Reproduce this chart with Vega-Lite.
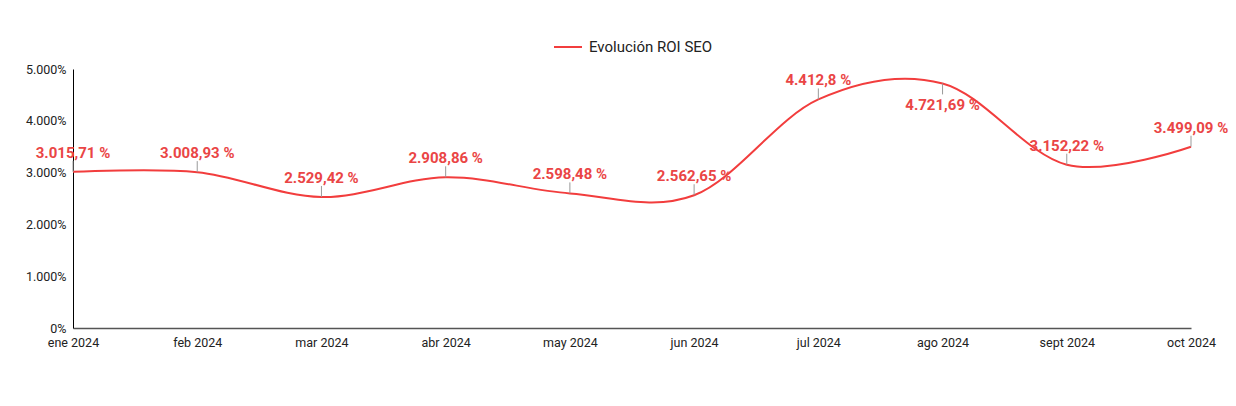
{
  "$schema": "https://vega.github.io/schema/vega-lite/v6.json",
  "width": 1118,
  "height": 259,
  "autosize": {"type": "none"},
  "padding": {"left": 73, "top": 69, "right": 45, "bottom": 78},
  "config": {
    "view": {"stroke": null},
    "font": "Roboto",
    "locale": {"number": {"decimal": ",", "thousands": ".", "grouping": [3], "currency": ["", " €"]}}
  },
  "data": {
    "values": [
      {"mes": "ene 2024", "roi": 3015.71},
      {"mes": "feb 2024", "roi": 3008.93},
      {"mes": "mar 2024", "roi": 2529.42},
      {"mes": "abr 2024", "roi": 2908.86},
      {"mes": "may 2024", "roi": 2598.48},
      {"mes": "jun 2024", "roi": 2562.65},
      {"mes": "jul 2024", "roi": 4412.8},
      {"mes": "ago 2024", "roi": 4721.69},
      {"mes": "sept 2024", "roi": 3152.22},
      {"mes": "oct 2024", "roi": 3499.09}
    ]
  },
  "transform": [{"calculate": "format(datum.roi, ',.6~g') + ' %'", "as": "etiqueta"}],
  "encoding": {
    "x": {
      "field": "mes", "type": "ordinal", "sort": null,
      "scale": {"type": "point", "padding": 0},
      "axis": {"title": null, "labelAngle": 0, "ticks": false, "domainColor": "#555", "domainWidth": 1.5, "labelFontSize": 12.5, "labelColor": "#222", "labelPadding": 8, "grid": false}
    },
    "y": {
      "field": "roi", "type": "quantitative",
      "scale": {"domain": [0, 5000]},
      "axis": {"title": null, "values": [0, 1000, 2000, 3000, 4000, 5000], "format": ",d", "labelExpr": "datum.label + '%'", "ticks": false, "grid": false, "domainColor": "#000", "labelFontSize": 12.5, "labelColor": "#222", "labelPadding": 7}
    }
  },
  "layer": [
    {
      "mark": {"type": "line", "interpolate": "cardinal", "strokeWidth": 2},
      "encoding": {
        "color": {
          "datum": "Evolución ROI SEO", "type": "nominal",
          "scale": {"range": ["#f23d3d"]},
          "legend": {"title": null, "orient": "none", "legendX": 480, "legendY": -37, "symbolType": "stroke", "symbolSize": 784, "symbolStrokeWidth": 2, "labelFontSize": 15, "labelColor": "#222", "labelOffset": 6}
        }
      }
    },
    {
      "transform": [{"filter": "datum.mes != 'ago 2024'"}],
      "mark": {"type": "rule", "color": "#999", "strokeWidth": 1, "y2Offset": -11},
      "encoding": {"y2": {"field": "roi"}}
    },
    {
      "transform": [{"filter": "datum.mes == 'ago 2024'"}],
      "mark": {"type": "rule", "color": "#999", "strokeWidth": 1, "y2Offset": 11},
      "encoding": {"y2": {"field": "roi"}}
    },
    {
      "transform": [{"filter": "datum.mes != 'ago 2024'"}],
      "mark": {"type": "text", "fontSize": 15, "fontWeight": "bold", "color": "#ea4545", "baseline": "alphabetic", "dy": -14},
      "encoding": {"text": {"field": "etiqueta"}}
    },
    {
      "transform": [{"filter": "datum.mes == 'ago 2024'"}],
      "mark": {"type": "text", "fontSize": 15, "fontWeight": "bold", "color": "#ea4545", "baseline": "alphabetic", "dy": 27},
      "encoding": {"text": {"field": "etiqueta"}}
    }
  ]
}
